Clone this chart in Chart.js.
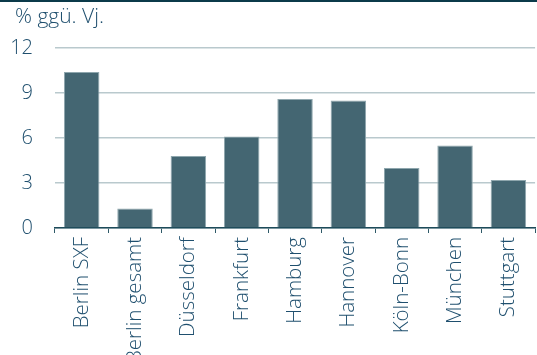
<!DOCTYPE html>
<html lang="de">
<head>
    <meta charset="UTF-8">
    <title>Passagiere ggü. Vorjahr</title>
    <script src="https://cdn.jsdelivr.net/npm/chart.js"></script>
    <style>
        html, body { margin: 0; padding: 0; background: #fff; }
        #wrap { position: relative; width: 537px; height: 355px; border-top: 2px solid #0b3a4a; box-sizing: border-box; }
        #chart { display: block; }
    </style>
</head>
<body>
    <div id="wrap"><canvas id="chart" width="537" height="353"></canvas></div>

    <script>
        // Flughäfen und Veränderung in % ggü. Vorjahr
        const airports = ['Berlin SXF', 'Berlin gesamt', 'Düsseldorf', 'Frankfurt', 'Hamburg', 'Hannover', 'Köln-Bonn', 'München', 'Stuttgart'];
        const changePct = [10.4, 1.3, 4.8, 6.1, 8.6, 8.5, 4.0, 5.5, 3.2];
        const yTicks = [0, 3, 6, 9, 12];
        const unitLabel = '% ggü. Vj.';

        const textColor = '#1f4f6e';
        const fontFamily = '"Open Sans", "Noto Sans", sans-serif';

        // Einheit oben links
        const unitPlugin = {
            id: 'unitLabel',
            afterDraw(chart) {
                const ctx = chart.ctx;
                ctx.save();
                ctx.font = '300 21px ' + fontFamily;
                ctx.fillStyle = textColor;
                ctx.textBaseline = 'alphabetic';
                ctx.fillText(unitLabel, 15, 21);
                ctx.restore();
            }
        };

        const ctx = document.getElementById('chart').getContext('2d');
        new Chart(ctx, {
            type: 'bar',
            data: {
                labels: airports,
                datasets: [{
                    data: changePct,
                    backgroundColor: '#446672',
                    borderColor: '#8ea6ad',
                    borderWidth: { left: 1, right: 1, top: 1, bottom: 0 },
                    categoryPercentage: 1,
                    barPercentage: 0.665
                }]
            },
            options: {
                responsive: false,
                animation: false,
                layout: { padding: { top: 46, right: 0, left: 0, bottom: 0 } },
                plugins: {
                    legend: { display: false },
                    tooltip: { enabled: false }
                },
                scales: {
                    x: {
                        grid: {
                            drawOnChartArea: false,
                            drawTicks: true,
                            tickLength: 5,
                            color: '#2f5a68',
                            offset: true
                        },
                        border: { display: true, color: '#1d4b5a', width: 1.5 },
                        ticks: {
                            color: textColor,
                            font: { family: fontFamily, size: 20.5, weight: 300 },
                            minRotation: 90,
                            maxRotation: 90,
                            autoSkip: false,
                            padding: 4
                        },
                        afterFit(scale) { scale.height = 127; }
                    },
                    y: {
                        min: 0,
                        max: 12,
                        afterBuildTicks(scale) {
                            scale.ticks = yTicks.map(v => ({ value: v }));
                        },
                        grid: {
                            color: '#b9c9cd',
                            lineWidth: 1.5,
                            drawTicks: false
                        },
                        border: { display: false },
                        ticks: {
                            color: textColor,
                            font: { family: fontFamily, size: 20, weight: 300 },
                            padding: 22
                        },
                        afterFit(scale) { scale.width = 55; }
                    }
                }
            },
            plugins: [unitPlugin]
        });
    </script>
</body>
</html>
